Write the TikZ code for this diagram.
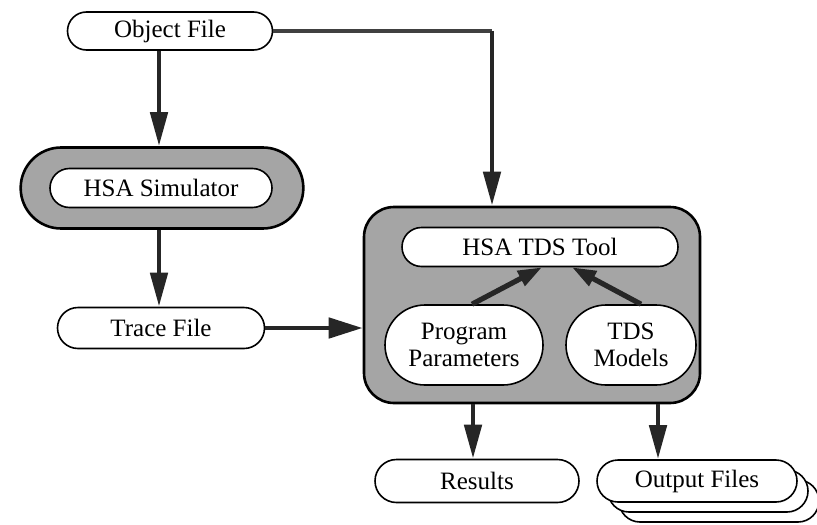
\documentclass[tikz,border=0pt]{standalone}
\usepackage{fontspec}
\setmainfont{Liberation Serif}
\newfontfamily\tms{Liberation Serif}
\usetikzlibrary{arrows.meta,shapes.misc}
\definecolor{shade}{RGB}{165,165,165}
\begin{document}
\begin{tikzpicture}[x=0.5pt,y=-0.5pt,
  lbl/.style={font=\tms\fontsize{12.5}{13.5}\selectfont, align=center, inner sep=0pt},
  pill/.style={rounded rectangle, draw=black, line width=0.8pt, fill=white, lbl},
  greypill/.style={rounded rectangle, draw=black, line width=1.3pt, fill=shade},
  flow/.style={line width=2.4pt, draw=black!85, -{Triangle[length=17pt,width=8.5pt]}},
  smallflow/.style={line width=2.6pt, draw=black!85, -{Triangle[length=12pt,width=8pt]}}
]
\useasboundingbox (0,0) rectangle (817,524);
\clip (0,0) rectangle (817,524);
\fill[white] (0,0) rectangle (817,524);

% left column
\node[pill, minimum width=102.5pt, minimum height=19pt] (obj) at (170,31) {Object File};
\node[greypill, minimum width=148pt, minimum height=40.5pt] (simout) at (162,188) {};
\node[pill, minimum width=111pt, minimum height=19.5pt] (sim) at (161,188) {HSA Simulator};
\node[pill, minimum width=103.5pt, minimum height=20.5pt] (trace) at (161,328) {Trace File};

% TDS group
\node[draw=black, line width=1.3pt, fill=shade, rounded corners=15pt, minimum width=168pt, minimum height=98pt] (tds) at (532,305) {};
\node[pill, minimum width=138pt, minimum height=19.5pt] (tool) at (540,247) {HSA TDS Tool};
\node[pill, minimum width=79pt, minimum height=40pt] (params) at (464,345) {Program\\Parameters};
\node[pill, minimum width=65pt, minimum height=40pt] (models) at (631,345) {TDS\\Models};

% outputs
\node[pill, minimum width=102pt, minimum height=21.5pt] (res) at (477,481) {Results};
\node[pill, minimum width=100pt, minimum height=21pt] (out3) at (719,501) {};
\node[pill, minimum width=100pt, minimum height=21pt] (out2) at (708,491) {};
\node[pill, minimum width=100pt, minimum height=21pt] (out) at (697,481) {Output Files};

% connectors
\draw[flow] (obj.south -| 159,0) -- (simout.north -| 159,0);
\draw[flow] (simout.south -| 159,0) -- (trace.north -| 159,0);
\draw[flow, -{Triangle[length=17pt,width=10pt]}] (trace.east) -- (tds.west |- trace.east);
\coordinate (corner) at (492,31);
\draw[line width=2.2pt, draw=black!75] (obj.east) -- (corner);
\draw[flow] (corner) -- (tds.north -| corner);
\draw[smallflow] (params.north -| 472,0) -- ([xshift=1pt]tool.south);
\draw[smallflow] (models.north -| 641,0) -- ([xshift=16pt]tool.south);
\draw[flow] (tds.south -| 473,0) -- (res.north -| 473,0);
\draw[flow] (tds.south -| 658,0) -- (out.north -| 658,0);
\end{tikzpicture}
\end{document}
